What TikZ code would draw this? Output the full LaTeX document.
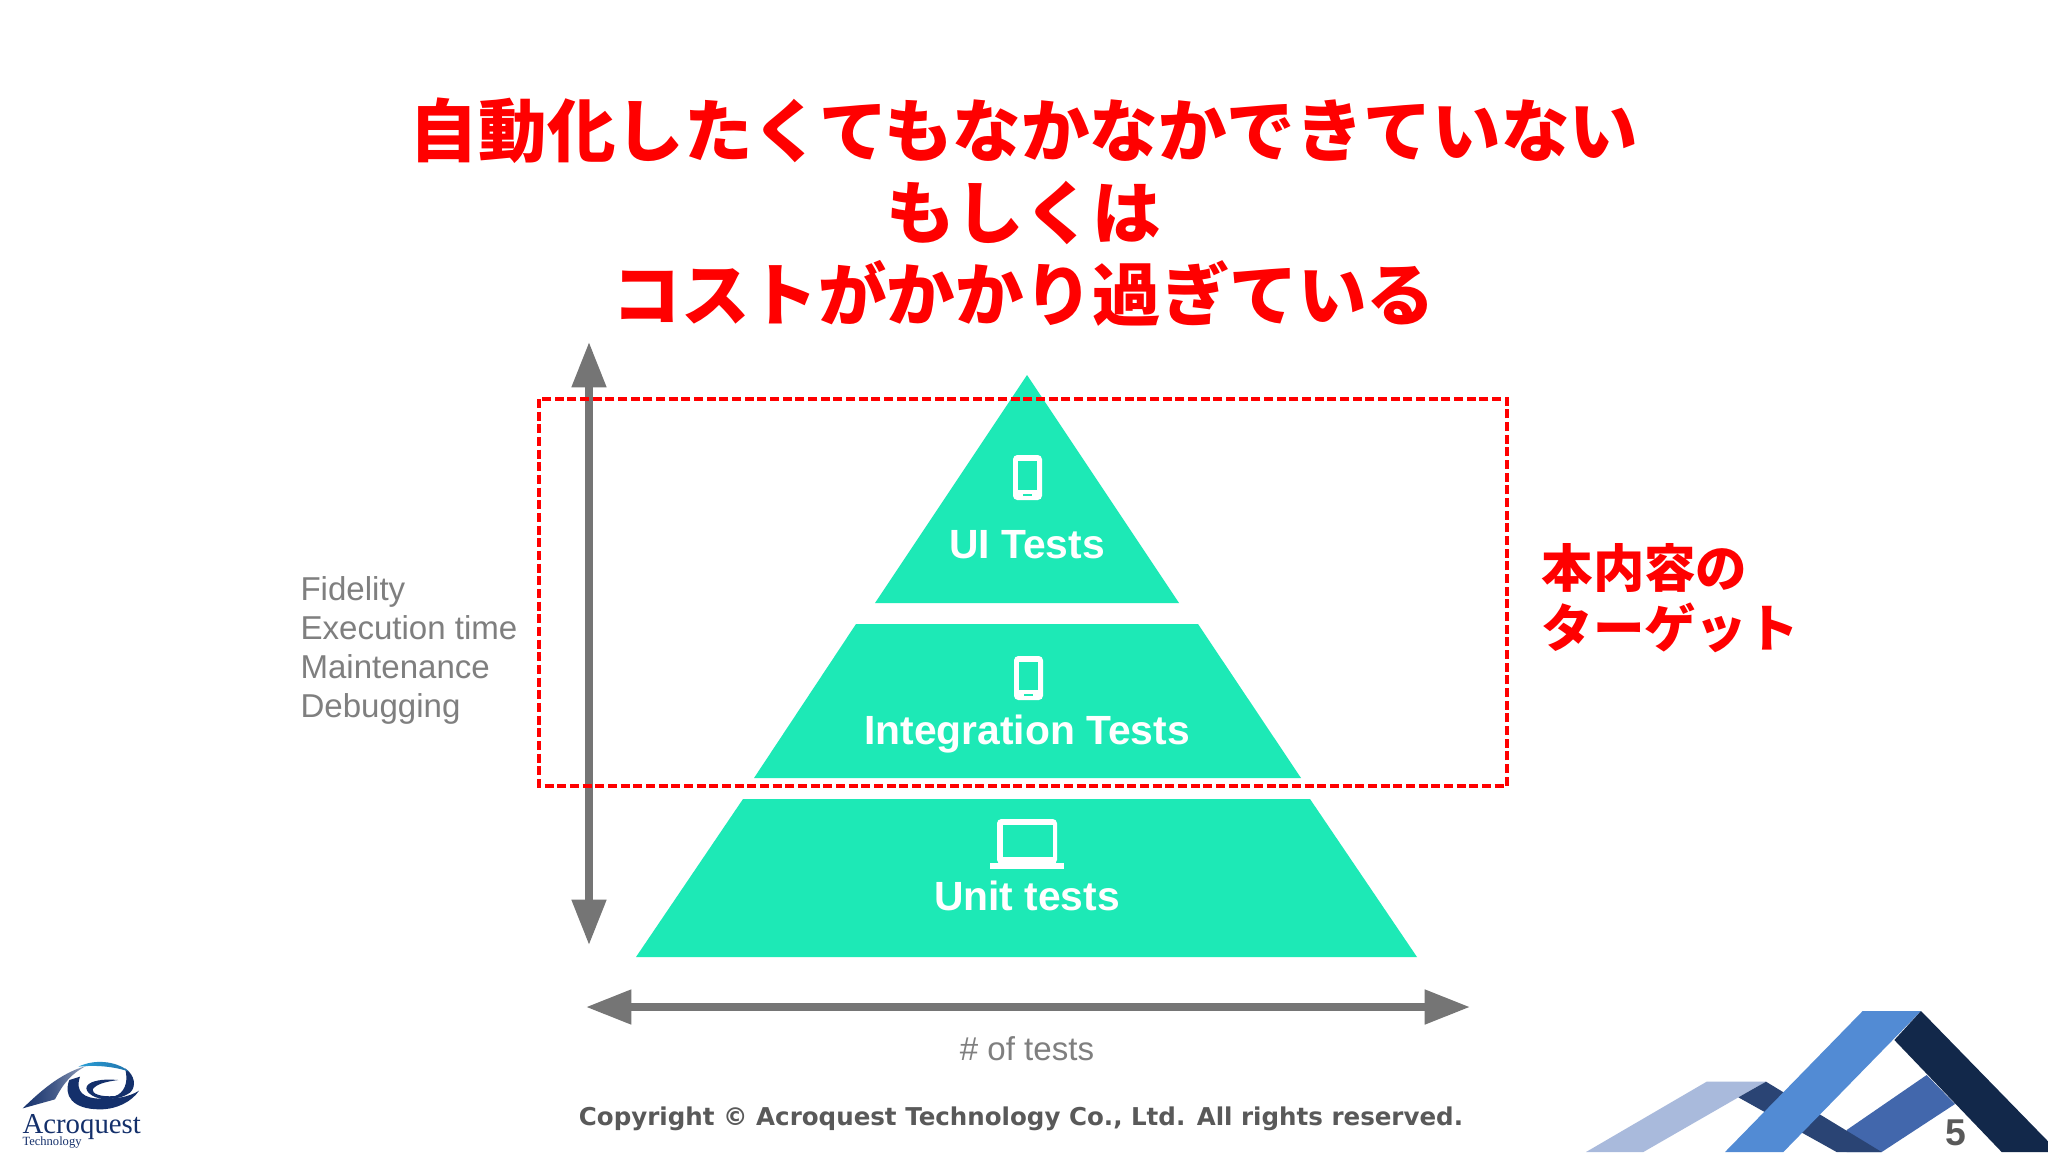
\documentclass[tikz,border=0pt]{standalone}
\usepackage{fontspec}
\setmainfont{Liberation Sans}
\newfontfamily\cjk{Noto Sans CJK JP}
\newfontfamily\logofont{Liberation Serif}
\newfontfamily\copyfont{DejaVu Sans}
\usetikzlibrary{arrows.meta}
\definecolor{teal1}{HTML}{1DE9B6}
\definecolor{axisgray}{HTML}{757575}
\definecolor{labelgray}{HTML}{7F7F7F}
\definecolor{copygray}{HTML}{595959}
\definecolor{logonavy}{HTML}{14306B}
\definecolor{logocyan}{HTML}{2A9FD6}
\tikzset{
  x=0.375pt,y=-0.375pt,
  title/.style={anchor=base,inner sep=0pt,text=red,font=\cjk\bfseries\fontsize{25.7}{30}\selectfont},
  target/.style={anchor=base west,inner sep=0pt,text=red,font=\cjk\bfseries\fontsize{19.3}{23}\selectfont},
  tier/.style={fill=teal1,draw=none},
  tierlabel/.style={anchor=base,inner sep=0pt,text=white,font=\bfseries\fontsize{15.3}{18}\selectfont},
  side/.style={anchor=base west,inner sep=0pt,text=labelgray,font=\fontsize{12.4}{14}\selectfont},
  axis/.style={draw=axisgray,line width=2.9pt,{Triangle[length=17pt,width=12.4pt]}-{Triangle[length=17pt,width=12.4pt]}},
  icon/.style={fill=white,draw=none},
  hole/.style={fill=teal1,draw=none}
}
\begin{document}
\begin{tikzpicture}
\useasboundingbox (0,0) rectangle (2048,1152);
\fill[white] (0,0) rectangle (2048,1152);

% title
\node[title] (t1) at (1024,156) {自動化したくてもなかなかできていない};
\node[title] (t2) at (1024,238) {もしくは};
\node[title] (t3) at (1024,320) {コストがかかり過ぎている};

% pyramid
\fill[tier] (1027,375) -- (1179,603) -- (875,603) -- cycle;
\fill[tier] (856,624) -- (1198,624) -- (1301,778) -- (754,778) -- cycle;
\fill[tier] (743,799) -- (1310,799) -- (1417,957) -- (636,957) -- cycle;

% phone icons
\fill[icon,rounded corners=1.6pt] (1013,455) rectangle (1042,500);
\fill[hole] (1018,461) rectangle (1037,490);
\fill[hole] (1023,494) rectangle (1032,496);
\fill[icon,rounded corners=1.6pt] (1014,656) rectangle (1043,700);
\fill[hole] (1019,662) rectangle (1038,690);
\fill[hole] (1024,694) rectangle (1033,696);
% laptop icon
\fill[icon,rounded corners=1.6pt] (997,819) rectangle (1057,864);
\fill[hole] (1003,825) rectangle (1053,857);
\fill[icon] (990,863) rectangle (1064,869);

\node[tierlabel] (ui) at (1027,558) {UI Tests};
\node[tierlabel] (integ) at (1027,744) {Integration Tests};
\node[tierlabel] (unit) at (1027,910) {Unit tests};

% axes
\coordinate (vtop) at (589,342);
\coordinate (vbot) at (589,945);
\coordinate (hleft) at (586,1007);
\coordinate (hright) at (1470,1007);
\draw[axis] (vbot) -- (vtop);
\draw[axis] (hleft) -- (hright);

% side text
\node[side] (s1) at (300,600) {Fidelity};
\node[side] (s2) at (300,639) {Execution time};
\node[side] (s3) at (300,678) {Maintenance};
\node[side] (s4) at (300,717) {Debugging};
\node[anchor=base,inner sep=0pt,text=labelgray,font=\fontsize{12.4}{14}\selectfont] (n) at (1027,1060) {\# of tests};

% target frame
\draw[red,line width=1.2pt,dash pattern=on 3.4pt off 1.35pt] (539,399) rectangle (1507,786);
\node[target] (g1) at (1541,587) {本内容の};
\node[target] (g2) at (1541,647) {ターゲット};

% footer
\node[anchor=base,inner sep=0pt,text=copygray,font=\copyfont\bfseries\fontsize{9.2}{11}\selectfont] (c) at (1021,1125) {Copyright © Acroquest Technology Co., Ltd. All rights reserved.};

% ribbons
\begin{scope}[shift={(1560,990)},x=0.125pt,y=-0.125pt]
\clip (-10,-10) rectangle (1470,486);
\fill[fill={rgb,255:red,169;green,186;blue,220}] (440,275) -- (618,275) -- (535,322) -- (250,486) -- (78,486) -- cycle;
\fill[fill={rgb,255:red,66;green,103;blue,172}] (860,420) -- (1100,255) -- (1185,342) -- (965,486) -- (860,486) -- cycle;
\fill[fill={rgb,255:red,42;green,68;blue,116}] (618,275) -- (965,486) -- (830,486) -- (535,322) -- cycle;
\fill[fill={rgb,255:red,82;green,139;blue,212}] (908,63) -- (1083,63) -- (670,486) -- (495,486) -- cycle;
\fill[fill={rgb,255:red,18;green,40;blue,74}] (1083,63) -- (1470,460) -- (1470,486) -- (1325,486) -- (1003,150) -- cycle;
\end{scope}
\node[inner sep=0pt,text=copygray,font=\bfseries\fontsize{14}{16}\selectfont] (pg) at (1956,1133) {5};

% logo
\begin{scope}[shift={(0,1020)},x=0.125pt,y=-0.125pt]
\shade[left color=logonavy,right color=logonavy!45,middle color=logonavy!80] (68,265) .. controls (120,215) and (180,160) .. (258,138) .. controls (215,160) and (190,190) .. (165,238) -- cycle;
\fill[logonavy] (208,180) .. controls (190,225) and (215,268) .. (300,268) .. controls (350,268) and (395,245) .. (417,212) .. controls (385,232) and (350,236) .. (305,236) .. controls (250,236) and (225,215) .. (240,170) -- cycle;
\fill[logonavy] (300,236) .. controls (260,225) and (245,200) .. (275,187) .. controls (300,177) and (330,178) .. (355,180) .. controls (325,184) and (290,190) .. (278,208) .. controls (275,220) and (300,232) .. (345,228) .. controls (370,220) and (388,190) .. (375,145) .. controls (405,165) and (410,200) .. (390,218) .. controls (360,238) and (330,238) .. (300,236) -- cycle;
\shade[left color=logocyan,right color=logocyan!60!logonavy] (235,140) .. controls (280,118) and (345,120) .. (388,155) .. controls (345,140) and (290,134) .. (235,140) -- cycle;
\end{scope}
\node[anchor=base west,inner sep=0pt,text=logonavy,font=\logofont\fontsize{10.8}{12}\selectfont] (lg1) at (22,1133) {Acroquest};
\node[anchor=base west,inner sep=0pt,text=logonavy,font=\logofont\fontsize{4.7}{6}\selectfont] (lg2) at (22,1145) {Technology};
\end{tikzpicture}
\end{document}
